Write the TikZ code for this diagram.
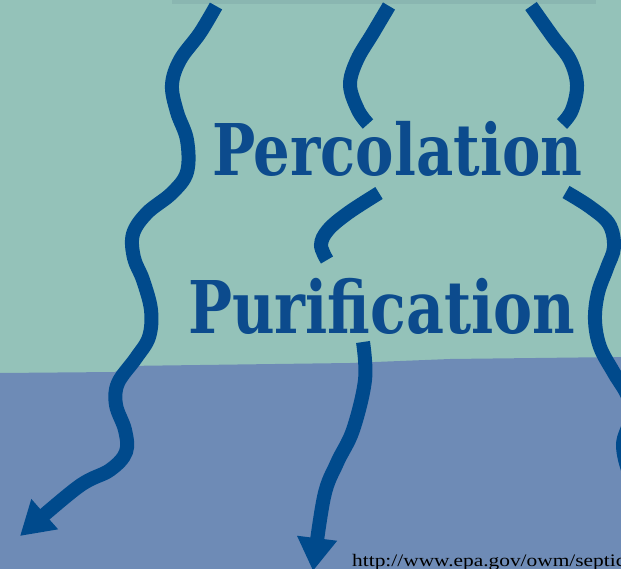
\documentclass[tikz,border=0pt]{standalone}
\usepackage{fontspec}
\usepackage{graphicx}
\usetikzlibrary{arrows.meta}
\newfontfamily\titlefont{DejaVu Serif}
\newfontfamily\urlfont{Liberation Serif}
\definecolor{teal0}{HTML}{94C2B9}
\definecolor{band0}{HTML}{8AB6B1}
\definecolor{blue0}{HTML}{6E8BB6}
\definecolor{curve0}{HTML}{004A8C}
\definecolor{text0}{HTML}{0C4B8D}
\tikzset{
  flow/.style={draw=curve0, line width=14pt, line cap=butt},
  flowarrow/.style={flow, -{Triangle[length=33pt,width=38pt]}},
  title/.style={anchor=south west, inner sep=0pt, text=text0},
}
\begin{document}
\begin{tikzpicture}[x=1pt,y=-1pt]
\useasboundingbox (0,0) rectangle (621,569);
\clip (0,0) rectangle (621,569);
% backgrounds
\fill[teal0] (0,0) rectangle (621,569);
\fill[band0] (172,0) rectangle (596,4);
\fill[blue0] (0,373) -- (115,372) -- (125,366) -- (350,363) -- (450,359) -- (621,357) -- (621,569) -- (0,569) -- cycle;
% left curve
\draw[flowarrow] plot[smooth, tension=0.6] coordinates {(216,6) (200,33) (180,60) (172,85) (177,112) (187,140) (187,172) (172,193) (147,213) (133,234) (134,258) (143,280) (151,310) (149,337) (136,358) (118,383) (116,405) (125,430) (126,452) (110,470) (78,487) (20,536)};
% middle top
\draw[flow] plot[smooth, tension=0.6] coordinates {(389,6) (373,33) (357,60) (350,85) (358,110) (368,124)};
% right top
\draw[flow] plot[smooth, tension=0.6] coordinates {(531,6) (553,37) (570,60) (577,85) (572,110) (562,124)};
% middle between
\draw[flow] plot[smooth, tension=0.6] coordinates {(379,193) (348,213) (328,230) (321,245) (327,260)};
% right lower
\draw[flow] plot[smooth, tension=0.6] coordinates {(566,192) (590,207) (609,224) (614,247) (607,268) (598,293) (595,320) (600,347) (614,373) (628,397) (630,420) (623,445) (630,475) (645,500)};
% middle bottom arrow
\draw[flowarrow] plot[smooth, tension=0.6] coordinates {(363,342) (365,380) (353,430) (337,463) (324,497) (313,571)};
% texts
\node[title] (perc) at (212,177) {\resizebox{370pt}{\height}{\fontsize{71.3pt}{80pt}\selectfont\titlefont\bfseries Percolation}};
\node[title] (puri) at (188,335) {\resizebox{387pt}{\height}{\fontsize{72.7pt}{80pt}\selectfont\titlefont\bfseries Purification}};
\node[anchor=base west, inner sep=0pt, text=black] (url) at (352,566) {\resizebox{273pt}{\height}{\fontsize{17.6pt}{20pt}\selectfont\urlfont http://www.epa.gov/owm/septic}};
\end{tikzpicture}
\end{document}
